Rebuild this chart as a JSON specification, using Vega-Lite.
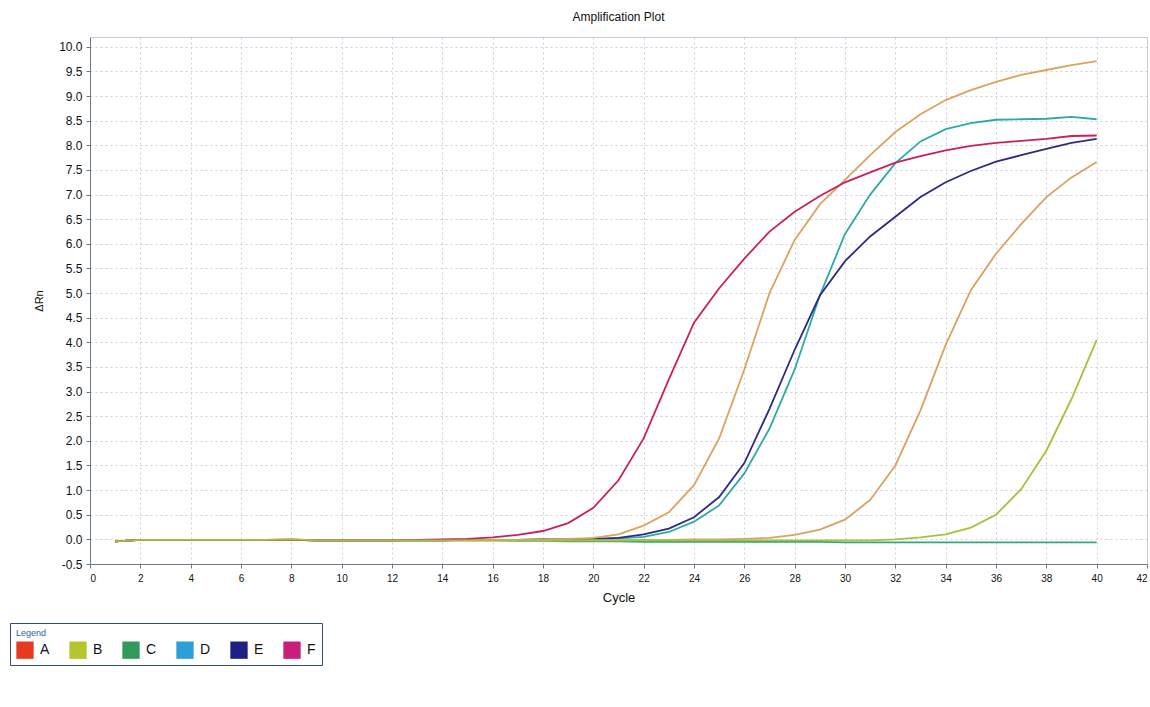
{
  "$schema": "https://vega.github.io/schema/vega-lite/v6.json",
  "width": 1057,
  "height": 527,
  "autosize": "none",
  "padding": {"left": 90, "top": 37, "right": 3, "bottom": 143},
  "background": "#ffffff",
  "title": {"text": "Amplification Plot", "fontSize": 12, "fontWeight": "normal", "font": "Liberation Sans", "color": "#111111", "offset": 13, "anchor": "middle"},
  "config": {
    "font": "Liberation Sans",
    "view": {"stroke": "#c8ccd8", "strokeWidth": 1},
    "axis": {"gridColor": "#cdd0dc", "gridDash": [2, 3], "gridWidth": 1, "domainColor": "#707888", "tickColor": "#707888", "tickSize": 4, "labelColor": "#111111", "titleColor": "#111111", "titleFontWeight": "normal", "labelOverlap": false}
  },
  "data": {"values": [
    {"well":"C","sample":"C","cycle":1,"rn":-0.04},{"well":"C","sample":"C","cycle":2,"rn":-0.01},{"well":"C","sample":"C","cycle":3,"rn":-0.01},{"well":"C","sample":"C","cycle":4,"rn":-0.01},{"well":"C","sample":"C","cycle":5,"rn":-0.01},{"well":"C","sample":"C","cycle":6,"rn":-0.01},{"well":"C","sample":"C","cycle":7,"rn":-0.01},{"well":"C","sample":"C","cycle":8,"rn":-0.01},{"well":"C","sample":"C","cycle":9,"rn":-0.02},{"well":"C","sample":"C","cycle":10,"rn":-0.02},
    {"well":"C","sample":"C","cycle":11,"rn":-0.02},{"well":"C","sample":"C","cycle":12,"rn":-0.02},{"well":"C","sample":"C","cycle":13,"rn":-0.02},{"well":"C","sample":"C","cycle":14,"rn":-0.02},{"well":"C","sample":"C","cycle":15,"rn":-0.02},{"well":"C","sample":"C","cycle":16,"rn":-0.02},{"well":"C","sample":"C","cycle":17,"rn":-0.03},{"well":"C","sample":"C","cycle":18,"rn":-0.03},{"well":"C","sample":"C","cycle":19,"rn":-0.04},{"well":"C","sample":"C","cycle":20,"rn":-0.04},
    {"well":"C","sample":"C","cycle":21,"rn":-0.04},{"well":"C","sample":"C","cycle":22,"rn":-0.05},{"well":"C","sample":"C","cycle":23,"rn":-0.05},{"well":"C","sample":"C","cycle":24,"rn":-0.05},{"well":"C","sample":"C","cycle":25,"rn":-0.05},{"well":"C","sample":"C","cycle":26,"rn":-0.05},{"well":"C","sample":"C","cycle":27,"rn":-0.05},{"well":"C","sample":"C","cycle":28,"rn":-0.05},{"well":"C","sample":"C","cycle":29,"rn":-0.05},{"well":"C","sample":"C","cycle":30,"rn":-0.06},
    {"well":"C","sample":"C","cycle":31,"rn":-0.06},{"well":"C","sample":"C","cycle":32,"rn":-0.06},{"well":"C","sample":"C","cycle":33,"rn":-0.06},{"well":"C","sample":"C","cycle":34,"rn":-0.06},{"well":"C","sample":"C","cycle":35,"rn":-0.06},{"well":"C","sample":"C","cycle":36,"rn":-0.06},{"well":"C","sample":"C","cycle":37,"rn":-0.06},{"well":"C","sample":"C","cycle":38,"rn":-0.06},{"well":"C","sample":"C","cycle":39,"rn":-0.06},{"well":"C","sample":"C","cycle":40,"rn":-0.06},

    {"well":"D","sample":"D","cycle":1,"rn":-0.04},{"well":"D","sample":"D","cycle":2,"rn":-0.01},{"well":"D","sample":"D","cycle":3,"rn":-0.01},{"well":"D","sample":"D","cycle":4,"rn":-0.01},{"well":"D","sample":"D","cycle":5,"rn":-0.01},{"well":"D","sample":"D","cycle":6,"rn":-0.01},{"well":"D","sample":"D","cycle":7,"rn":-0.01},{"well":"D","sample":"D","cycle":8,"rn":-0.01},{"well":"D","sample":"D","cycle":9,"rn":-0.02},{"well":"D","sample":"D","cycle":10,"rn":-0.02},
    {"well":"D","sample":"D","cycle":11,"rn":-0.02},{"well":"D","sample":"D","cycle":12,"rn":-0.02},{"well":"D","sample":"D","cycle":13,"rn":-0.02},{"well":"D","sample":"D","cycle":14,"rn":-0.02},{"well":"D","sample":"D","cycle":15,"rn":-0.01},{"well":"D","sample":"D","cycle":16,"rn":-0.01},{"well":"D","sample":"D","cycle":17,"rn":-0.01},{"well":"D","sample":"D","cycle":18,"rn":0},{"well":"D","sample":"D","cycle":19,"rn":0},{"well":"D","sample":"D","cycle":20,"rn":0},
    {"well":"D","sample":"D","cycle":21,"rn":0.02},{"well":"D","sample":"D","cycle":22,"rn":0.05},{"well":"D","sample":"D","cycle":23,"rn":0.15},{"well":"D","sample":"D","cycle":24,"rn":0.36},{"well":"D","sample":"D","cycle":25,"rn":0.69},{"well":"D","sample":"D","cycle":26,"rn":1.34},{"well":"D","sample":"D","cycle":27,"rn":2.25},{"well":"D","sample":"D","cycle":28,"rn":3.45},{"well":"D","sample":"D","cycle":29,"rn":4.95},{"well":"D","sample":"D","cycle":30,"rn":6.2},
    {"well":"D","sample":"D","cycle":31,"rn":7.0},{"well":"D","sample":"D","cycle":32,"rn":7.64},{"well":"D","sample":"D","cycle":33,"rn":8.08},{"well":"D","sample":"D","cycle":34,"rn":8.33},{"well":"D","sample":"D","cycle":35,"rn":8.45},{"well":"D","sample":"D","cycle":36,"rn":8.52},{"well":"D","sample":"D","cycle":37,"rn":8.53},{"well":"D","sample":"D","cycle":38,"rn":8.54},{"well":"D","sample":"D","cycle":39,"rn":8.58},{"well":"D","sample":"D","cycle":40,"rn":8.53},

    {"well":"E","sample":"E","cycle":1,"rn":-0.04},{"well":"E","sample":"E","cycle":2,"rn":-0.01},{"well":"E","sample":"E","cycle":3,"rn":-0.01},{"well":"E","sample":"E","cycle":4,"rn":-0.01},{"well":"E","sample":"E","cycle":5,"rn":-0.01},{"well":"E","sample":"E","cycle":6,"rn":-0.01},{"well":"E","sample":"E","cycle":7,"rn":-0.01},{"well":"E","sample":"E","cycle":8,"rn":-0.01},{"well":"E","sample":"E","cycle":9,"rn":-0.02},{"well":"E","sample":"E","cycle":10,"rn":-0.02},
    {"well":"E","sample":"E","cycle":11,"rn":-0.02},{"well":"E","sample":"E","cycle":12,"rn":-0.02},{"well":"E","sample":"E","cycle":13,"rn":-0.02},{"well":"E","sample":"E","cycle":14,"rn":-0.02},{"well":"E","sample":"E","cycle":15,"rn":-0.01},{"well":"E","sample":"E","cycle":16,"rn":-0.01},{"well":"E","sample":"E","cycle":17,"rn":-0.01},{"well":"E","sample":"E","cycle":18,"rn":0},{"well":"E","sample":"E","cycle":19,"rn":0},{"well":"E","sample":"E","cycle":20,"rn":0.01},
    {"well":"E","sample":"E","cycle":21,"rn":0.03},{"well":"E","sample":"E","cycle":22,"rn":0.1},{"well":"E","sample":"E","cycle":23,"rn":0.22},{"well":"E","sample":"E","cycle":24,"rn":0.45},{"well":"E","sample":"E","cycle":25,"rn":0.86},{"well":"E","sample":"E","cycle":26,"rn":1.55},{"well":"E","sample":"E","cycle":27,"rn":2.65},{"well":"E","sample":"E","cycle":28,"rn":3.85},{"well":"E","sample":"E","cycle":29,"rn":4.95},{"well":"E","sample":"E","cycle":30,"rn":5.65},
    {"well":"E","sample":"E","cycle":31,"rn":6.15},{"well":"E","sample":"E","cycle":32,"rn":6.55},{"well":"E","sample":"E","cycle":33,"rn":6.95},{"well":"E","sample":"E","cycle":34,"rn":7.25},{"well":"E","sample":"E","cycle":35,"rn":7.48},{"well":"E","sample":"E","cycle":36,"rn":7.67},{"well":"E","sample":"E","cycle":37,"rn":7.8},{"well":"E","sample":"E","cycle":38,"rn":7.93},{"well":"E","sample":"E","cycle":39,"rn":8.05},{"well":"E","sample":"E","cycle":40,"rn":8.13},

    {"well":"A1","sample":"A","cycle":1,"rn":-0.04},{"well":"A1","sample":"A","cycle":2,"rn":-0.01},{"well":"A1","sample":"A","cycle":3,"rn":-0.01},{"well":"A1","sample":"A","cycle":4,"rn":-0.01},{"well":"A1","sample":"A","cycle":5,"rn":-0.01},{"well":"A1","sample":"A","cycle":6,"rn":-0.01},{"well":"A1","sample":"A","cycle":7,"rn":-0.01},{"well":"A1","sample":"A","cycle":8,"rn":0},{"well":"A1","sample":"A","cycle":9,"rn":-0.02},{"well":"A1","sample":"A","cycle":10,"rn":-0.02},
    {"well":"A1","sample":"A","cycle":11,"rn":-0.02},{"well":"A1","sample":"A","cycle":12,"rn":-0.02},{"well":"A1","sample":"A","cycle":13,"rn":-0.02},{"well":"A1","sample":"A","cycle":14,"rn":-0.02},{"well":"A1","sample":"A","cycle":15,"rn":-0.01},{"well":"A1","sample":"A","cycle":16,"rn":-0.01},{"well":"A1","sample":"A","cycle":17,"rn":-0.01},{"well":"A1","sample":"A","cycle":18,"rn":0},{"well":"A1","sample":"A","cycle":19,"rn":0.01},{"well":"A1","sample":"A","cycle":20,"rn":0.03},
    {"well":"A1","sample":"A","cycle":21,"rn":0.1},{"well":"A1","sample":"A","cycle":22,"rn":0.28},{"well":"A1","sample":"A","cycle":23,"rn":0.55},{"well":"A1","sample":"A","cycle":24,"rn":1.1},{"well":"A1","sample":"A","cycle":25,"rn":2.05},{"well":"A1","sample":"A","cycle":26,"rn":3.45},{"well":"A1","sample":"A","cycle":27,"rn":5.0},{"well":"A1","sample":"A","cycle":28,"rn":6.08},{"well":"A1","sample":"A","cycle":29,"rn":6.8},{"well":"A1","sample":"A","cycle":30,"rn":7.3},
    {"well":"A1","sample":"A","cycle":31,"rn":7.8},{"well":"A1","sample":"A","cycle":32,"rn":8.27},{"well":"A1","sample":"A","cycle":33,"rn":8.63},{"well":"A1","sample":"A","cycle":34,"rn":8.92},{"well":"A1","sample":"A","cycle":35,"rn":9.12},{"well":"A1","sample":"A","cycle":36,"rn":9.29},{"well":"A1","sample":"A","cycle":37,"rn":9.43},{"well":"A1","sample":"A","cycle":38,"rn":9.53},{"well":"A1","sample":"A","cycle":39,"rn":9.63},{"well":"A1","sample":"A","cycle":40,"rn":9.71},

    {"well":"A2","sample":"A","cycle":1,"rn":-0.04},{"well":"A2","sample":"A","cycle":2,"rn":-0.01},{"well":"A2","sample":"A","cycle":3,"rn":-0.01},{"well":"A2","sample":"A","cycle":4,"rn":-0.01},{"well":"A2","sample":"A","cycle":5,"rn":-0.01},{"well":"A2","sample":"A","cycle":6,"rn":-0.01},{"well":"A2","sample":"A","cycle":7,"rn":-0.01},{"well":"A2","sample":"A","cycle":8,"rn":0},{"well":"A2","sample":"A","cycle":9,"rn":-0.02},{"well":"A2","sample":"A","cycle":10,"rn":-0.02},
    {"well":"A2","sample":"A","cycle":11,"rn":-0.02},{"well":"A2","sample":"A","cycle":12,"rn":-0.02},{"well":"A2","sample":"A","cycle":13,"rn":-0.02},{"well":"A2","sample":"A","cycle":14,"rn":-0.02},{"well":"A2","sample":"A","cycle":15,"rn":-0.02},{"well":"A2","sample":"A","cycle":16,"rn":-0.02},{"well":"A2","sample":"A","cycle":17,"rn":-0.02},{"well":"A2","sample":"A","cycle":18,"rn":-0.02},{"well":"A2","sample":"A","cycle":19,"rn":-0.02},{"well":"A2","sample":"A","cycle":20,"rn":-0.02},
    {"well":"A2","sample":"A","cycle":21,"rn":-0.02},{"well":"A2","sample":"A","cycle":22,"rn":-0.01},{"well":"A2","sample":"A","cycle":23,"rn":-0.01},{"well":"A2","sample":"A","cycle":24,"rn":0},{"well":"A2","sample":"A","cycle":25,"rn":0},{"well":"A2","sample":"A","cycle":26,"rn":0.01},{"well":"A2","sample":"A","cycle":27,"rn":0.03},{"well":"A2","sample":"A","cycle":28,"rn":0.09},{"well":"A2","sample":"A","cycle":29,"rn":0.2},{"well":"A2","sample":"A","cycle":30,"rn":0.4},
    {"well":"A2","sample":"A","cycle":31,"rn":0.8},{"well":"A2","sample":"A","cycle":32,"rn":1.5},{"well":"A2","sample":"A","cycle":33,"rn":2.62},{"well":"A2","sample":"A","cycle":34,"rn":3.95},{"well":"A2","sample":"A","cycle":35,"rn":5.06},{"well":"A2","sample":"A","cycle":36,"rn":5.8},{"well":"A2","sample":"A","cycle":37,"rn":6.4},{"well":"A2","sample":"A","cycle":38,"rn":6.95},{"well":"A2","sample":"A","cycle":39,"rn":7.35},{"well":"A2","sample":"A","cycle":40,"rn":7.66},

    {"well":"F","sample":"F","cycle":1,"rn":-0.04},{"well":"F","sample":"F","cycle":2,"rn":-0.01},{"well":"F","sample":"F","cycle":3,"rn":-0.01},{"well":"F","sample":"F","cycle":4,"rn":-0.01},{"well":"F","sample":"F","cycle":5,"rn":-0.01},{"well":"F","sample":"F","cycle":6,"rn":-0.01},{"well":"F","sample":"F","cycle":7,"rn":-0.01},{"well":"F","sample":"F","cycle":8,"rn":-0.01},{"well":"F","sample":"F","cycle":9,"rn":-0.02},{"well":"F","sample":"F","cycle":10,"rn":-0.02},
    {"well":"F","sample":"F","cycle":11,"rn":-0.02},{"well":"F","sample":"F","cycle":12,"rn":-0.02},{"well":"F","sample":"F","cycle":13,"rn":-0.01},{"well":"F","sample":"F","cycle":14,"rn":0},{"well":"F","sample":"F","cycle":15,"rn":0.01},{"well":"F","sample":"F","cycle":16,"rn":0.04},{"well":"F","sample":"F","cycle":17,"rn":0.09},{"well":"F","sample":"F","cycle":18,"rn":0.17},{"well":"F","sample":"F","cycle":19,"rn":0.33},{"well":"F","sample":"F","cycle":20,"rn":0.64},
    {"well":"F","sample":"F","cycle":21,"rn":1.2},{"well":"F","sample":"F","cycle":22,"rn":2.05},{"well":"F","sample":"F","cycle":23,"rn":3.25},{"well":"F","sample":"F","cycle":24,"rn":4.4},{"well":"F","sample":"F","cycle":25,"rn":5.1},{"well":"F","sample":"F","cycle":26,"rn":5.7},{"well":"F","sample":"F","cycle":27,"rn":6.25},{"well":"F","sample":"F","cycle":28,"rn":6.65},{"well":"F","sample":"F","cycle":29,"rn":6.97},{"well":"F","sample":"F","cycle":30,"rn":7.25},
    {"well":"F","sample":"F","cycle":31,"rn":7.45},{"well":"F","sample":"F","cycle":32,"rn":7.65},{"well":"F","sample":"F","cycle":33,"rn":7.78},{"well":"F","sample":"F","cycle":34,"rn":7.9},{"well":"F","sample":"F","cycle":35,"rn":7.99},{"well":"F","sample":"F","cycle":36,"rn":8.05},{"well":"F","sample":"F","cycle":37,"rn":8.09},{"well":"F","sample":"F","cycle":38,"rn":8.13},{"well":"F","sample":"F","cycle":39,"rn":8.19},{"well":"F","sample":"F","cycle":40,"rn":8.2},

    {"well":"B","sample":"B","cycle":1,"rn":-0.04},{"well":"B","sample":"B","cycle":2,"rn":-0.01},{"well":"B","sample":"B","cycle":3,"rn":-0.01},{"well":"B","sample":"B","cycle":4,"rn":-0.01},{"well":"B","sample":"B","cycle":5,"rn":-0.01},{"well":"B","sample":"B","cycle":6,"rn":-0.01},{"well":"B","sample":"B","cycle":7,"rn":-0.01},{"well":"B","sample":"B","cycle":8,"rn":0},{"well":"B","sample":"B","cycle":9,"rn":-0.02},{"well":"B","sample":"B","cycle":10,"rn":-0.02},
    {"well":"B","sample":"B","cycle":11,"rn":-0.02},{"well":"B","sample":"B","cycle":12,"rn":-0.02},{"well":"B","sample":"B","cycle":13,"rn":-0.02},{"well":"B","sample":"B","cycle":14,"rn":-0.02},{"well":"B","sample":"B","cycle":15,"rn":-0.02},{"well":"B","sample":"B","cycle":16,"rn":-0.02},{"well":"B","sample":"B","cycle":17,"rn":-0.02},{"well":"B","sample":"B","cycle":18,"rn":-0.02},{"well":"B","sample":"B","cycle":19,"rn":-0.02},{"well":"B","sample":"B","cycle":20,"rn":-0.02},
    {"well":"B","sample":"B","cycle":21,"rn":-0.02},{"well":"B","sample":"B","cycle":22,"rn":-0.02},{"well":"B","sample":"B","cycle":23,"rn":-0.02},{"well":"B","sample":"B","cycle":24,"rn":-0.02},{"well":"B","sample":"B","cycle":25,"rn":-0.02},{"well":"B","sample":"B","cycle":26,"rn":-0.02},{"well":"B","sample":"B","cycle":27,"rn":-0.02},{"well":"B","sample":"B","cycle":28,"rn":-0.02},{"well":"B","sample":"B","cycle":29,"rn":-0.02},{"well":"B","sample":"B","cycle":30,"rn":-0.02},
    {"well":"B","sample":"B","cycle":31,"rn":-0.02},{"well":"B","sample":"B","cycle":32,"rn":0},{"well":"B","sample":"B","cycle":33,"rn":0.04},{"well":"B","sample":"B","cycle":34,"rn":0.1},{"well":"B","sample":"B","cycle":35,"rn":0.24},{"well":"B","sample":"B","cycle":36,"rn":0.5},{"well":"B","sample":"B","cycle":37,"rn":1.02},{"well":"B","sample":"B","cycle":38,"rn":1.8},{"well":"B","sample":"B","cycle":39,"rn":2.85},{"well":"B","sample":"B","cycle":40,"rn":4.05}
  ]},
  "encoding": {
    "x": {
      "field": "cycle", "type": "quantitative",
      "scale": {"domain": [0, 42], "nice": false},
      "axis": {"title": "Cycle", "titleFontSize": 13, "titlePadding": 8, "values": [0,2,4,6,8,10,12,14,16,18,20,22,24,26,28,30,32,34,36,38,40,42], "format": "d", "labelFontSize": 10, "labelPadding": 5, "labelOverlap": false}
    },
    "y": {
      "field": "rn", "type": "quantitative",
      "scale": {"domain": [-0.5, 10.2], "nice": false, "zero": false},
      "axis": {"title": "ΔRn", "titleFontSize": 11, "titlePadding": 14, "values": [-0.5,0,0.5,1,1.5,2,2.5,3,3.5,4,4.5,5,5.5,6,6.5,7,7.5,8,8.5,9,9.5,10], "labelExpr": "replace(format(datum.value, '.1f'), '−', '-')", "labelFontSize": 12, "labelPadding": 4, "labelOverlap": false, "labelBound": false, "labelFlush": false}
    }
  },
  "layer": [
    {
      "mark": {"type": "point", "filled": true, "opacity": 0, "size": 1},
      "encoding": {
        "fill": {
          "field": "sample", "type": "nominal",
          "scale": {"domain": ["A", "B", "C", "D", "E", "F"], "range": ["#e63a20", "#b4c62c", "#2e9a5c", "#2c9fd6", "#1e2082", "#c8207a"]},
          "legend": {
            "orient": "none", "legendX": -80, "legendY": 586, "direction": "horizontal",
            "title": "Legend", "titleFontSize": 9, "titleColor": "#2a64a8", "titleFontWeight": "normal", "titlePadding": 3,
            "symbolType": "square", "symbolSize": 300, "symbolOpacity": 1, "symbolStrokeWidth": 0,
            "labelFontSize": 14, "labelColor": "#111111", "labelOffset": 6,
            "columnPadding": 19, "padding": 6, "strokeColor": "#2a4a88"
          }
        }
      }
    },
    {
      "mark": {"type": "line", "strokeWidth": 1.8, "interpolate": "linear"},
      "encoding": {
        "stroke": {
          "field": "well", "type": "nominal",
          "scale": {"domain": ["A1", "A2", "B", "C", "D", "E", "F"], "range": ["#dba35e", "#d9a162", "#a3c23e", "#36a57a", "#2eaaa6", "#2c2a86", "#c9205c"]},
          "legend": null
        }
      }
    }
  ]
}
